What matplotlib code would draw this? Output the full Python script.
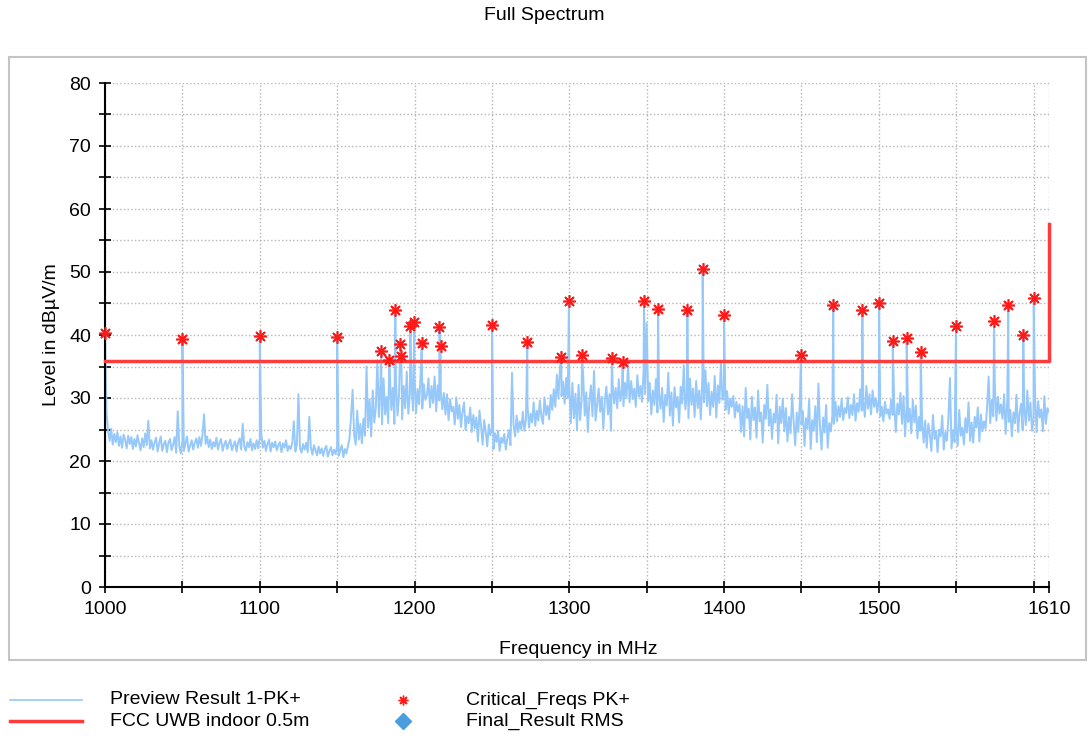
import numpy as np
import matplotlib.pyplot as plt
from matplotlib.lines import Line2D
from matplotlib.patches import Rectangle

plt.rcParams['font.family'] = ['Liberation Sans', 'DejaVu Sans']

# preview trace, one value per MHz from 1000 to 1610 MHz (dBuV/m)
trace_start = 1000
trace_step = 1
trace_levels = [
    40.3, 27.5, 24.8, 23.2, 25.1, 22.6, 24.3, 23.0, 24.6, 22.4,
    23.9, 22.1, 24.2, 23.4, 22.0, 24.0, 22.7, 23.8, 21.9, 23.5,
    22.3, 24.1, 22.8, 21.7, 23.6, 22.2, 24.4, 22.5, 26.4, 22.0,
    23.3, 21.8, 22.9, 23.7, 21.5, 22.8, 23.9, 21.6, 22.7, 23.2,
    21.4, 22.9, 23.5, 21.7, 22.6, 23.8, 21.3, 27.9, 22.4, 21.2,
    23.1, 21.6, 22.8, 23.9, 21.5, 22.4, 23.3, 21.8, 22.9, 23.6,
    22.1, 23.8, 22.4, 24.1, 27.4, 22.7, 23.9, 22.2, 23.4, 21.9,
    23.0, 22.3, 23.7, 21.8, 22.9, 23.5, 21.6, 22.6, 23.2, 21.9,
    22.8, 23.4, 21.7, 22.5, 23.1, 21.5, 22.9, 23.6, 21.8, 25.9,
    22.3, 21.6, 23.0, 22.2, 23.5, 21.7, 22.8, 21.9, 23.3, 22.0,
    23.6, 24.4, 22.1, 23.2, 21.6, 22.7, 23.4, 21.5, 22.9, 22.2,
    23.1, 21.7, 22.5, 23.0, 21.4, 22.8, 22.1, 23.3, 21.6, 22.4,
    21.9, 22.8, 26.3, 21.5, 22.6, 30.6, 22.0, 21.3, 22.7, 21.8,
    22.9, 21.4, 27.0, 22.2, 21.0, 22.5, 21.7, 20.9, 22.3, 21.2,
    22.0, 20.8, 21.9, 22.4, 20.7, 21.6, 22.2, 20.9, 21.8, 21.1,
    22.3, 20.8, 21.7, 22.5, 20.6, 21.9, 21.2, 22.4, 23.6, 27.2,
    31.3, 24.1, 22.6, 28.0, 23.4, 25.9, 22.8, 26.7, 24.0, 35.0,
    25.3, 29.8, 23.9, 31.2, 26.1, 28.4, 36.0, 27.0, 32.6, 25.8,
    33.1, 27.4, 30.2, 26.0, 34.5, 28.1, 31.6, 25.9, 32.8, 27.2,
    30.5, 33.8, 26.6, 31.9, 28.4, 34.2, 27.5, 30.6, 32.9, 28.0,
    33.5, 27.6, 31.4, 29.0, 34.0, 28.3, 32.2, 29.7, 30.4, 33.1,
    28.5, 31.9, 29.2, 33.4, 27.9, 32.0, 29.6, 31.1, 28.2, 30.8,
    27.4, 30.6, 26.5, 29.8, 27.9, 28.6, 25.8, 30.1, 26.7, 28.9,
    25.4, 27.8, 29.3, 24.9, 27.1, 26.0, 28.5, 24.6, 27.3, 25.2,
    26.9, 23.1, 28.0, 25.6, 22.6, 26.5, 24.7, 22.3, 25.8, 24.1,
    25.2, 21.9, 24.4, 23.0, 24.8, 21.6, 23.7, 22.9, 24.3, 21.8,
    23.6, 24.9, 22.5, 34.0, 25.7, 23.9, 27.2, 24.6, 26.3, 25.0,
    27.8, 24.8, 26.6, 28.9, 25.3, 27.5, 26.1, 29.3, 25.6, 28.0,
    26.4, 29.6, 27.0, 25.9, 30.1, 27.3, 28.8, 26.6, 30.5, 28.1,
    31.4, 28.6, 33.7, 29.9, 34.8, 30.3, 32.6, 29.1, 33.2, 30.0,
    31.9, 26.0, 32.4, 26.8, 30.7, 24.9, 32.1, 26.5, 29.8, 33.6,
    27.2, 30.9, 24.6, 29.5, 32.0, 27.1, 34.3, 26.4, 29.0, 31.5,
    27.8, 30.2, 25.1, 29.7, 31.8, 27.4, 30.6, 24.8, 32.3, 29.1,
    31.6, 28.4, 33.0, 29.5, 31.2, 28.7, 32.4, 30.0, 35.4, 29.3,
    32.7, 29.8, 31.5, 28.6, 33.6, 30.2, 31.9, 29.4, 34.1, 30.6,
    41.9, 29.5, 32.4, 27.4, 31.2, 28.9, 33.0, 27.7, 30.8, 28.3,
    31.6, 26.2, 30.5, 28.8, 34.0, 27.2, 30.9, 25.6, 31.7, 28.5,
    30.2, 26.1, 31.8, 29.1, 35.2, 28.2, 30.7, 26.8, 33.1, 28.9,
    31.5, 27.0, 32.7, 28.4, 31.2, 26.6, 33.3, 29.3, 34.4, 28.7,
    32.4, 27.3, 31.0, 28.6, 33.5, 26.9, 32.0, 29.2, 35.6, 29.7,
    30.6, 28.1, 31.1, 27.5, 29.9, 28.6, 30.3, 26.9, 29.4, 27.8,
    29.0, 24.6, 28.7, 23.9, 31.6, 26.8, 28.3, 23.4, 30.2, 26.5,
    28.5, 23.7, 31.2, 26.3, 27.7, 22.9, 28.9, 26.7, 32.1, 25.6,
    28.2, 23.5, 27.5, 26.1, 30.5, 22.8, 28.6, 26.0, 29.9, 24.7,
    28.4, 23.1, 27.0, 24.4, 30.6, 26.2, 22.5, 27.7, 24.6, 29.3,
    25.8, 27.9, 22.4, 26.8, 25.1, 29.8, 21.9, 26.5, 24.8, 28.7,
    23.0, 32.3, 25.6, 21.8, 26.9, 24.5, 28.9, 22.1, 26.0, 24.7,
    27.2, 25.9, 29.4, 26.3, 28.7, 27.0, 29.9, 26.5, 28.4, 27.6,
    30.1, 26.8, 28.9, 27.3, 30.6, 26.4, 29.2, 27.8, 31.4, 28.0,
    29.5, 27.0, 31.9, 28.3, 30.6, 27.4, 31.2, 28.6, 30.0, 27.7,
    29.8, 27.1, 28.6, 26.3, 29.4, 27.5, 28.2, 26.7, 29.7, 27.3,
    28.9, 24.6, 29.1, 27.4, 30.8, 25.9, 30.3, 23.9, 28.6, 26.2,
    28.3, 24.4, 29.7, 26.1, 28.8, 23.6, 27.0, 24.8, 26.5, 22.9,
    26.4, 22.1, 25.9, 24.2, 21.6, 27.3, 23.5, 24.8, 21.4, 25.0,
    23.9, 27.2, 21.8, 24.6, 23.2, 26.9, 33.2, 22.0, 24.9, 23.0,
    25.5, 22.4, 28.1, 24.0, 25.3, 22.6, 26.8, 24.5, 29.3, 23.2,
    26.1, 22.9, 27.0, 25.3, 28.5, 23.1, 27.4, 24.7, 26.3, 25.1,
    28.6, 33.4, 26.0, 29.7, 27.1, 31.8, 26.4, 30.2, 27.5, 29.0,
    26.7, 30.6, 24.3, 29.4, 26.2, 28.1, 23.9, 27.7, 26.0, 30.5,
    24.6, 27.6, 29.1, 24.9, 28.5, 25.7, 31.2, 26.4, 29.3, 24.8,
    26.5, 30.1, 24.6, 29.5, 26.9, 28.2, 24.7, 30.3, 25.9, 28.4,
    27.8,
]

# critical frequencies (peak detector)
crit_freqs = [1000.0, 1050.0, 1100.0, 1150.0, 1178.4, 1183.7, 1187.6, 1190.8,
              1191.5, 1197.3, 1199.9, 1204.7, 1216.0, 1216.9, 1250.1, 1272.9,
              1294.9, 1299.8, 1308.2, 1327.6, 1334.5, 1348.3, 1357.4, 1376.3,
              1386.2, 1400.0, 1449.7, 1470.6, 1489.4, 1500.2, 1509.0, 1518.0,
              1527.1, 1549.9, 1574.5, 1583.7, 1593.4, 1600.1]
crit_levels = [40.3, 39.4, 39.8, 39.7, 37.5, 36.1, 44.0, 38.6,
               36.7, 41.4, 42.1, 38.8, 41.3, 38.3, 41.6, 38.9,
               36.5, 45.4, 36.9, 36.4, 35.7, 45.4, 44.1, 43.9,
               50.4, 43.1, 36.9, 44.8, 44.0, 45.0, 39.0, 39.5,
               37.3, 41.5, 42.3, 44.8, 40.0, 45.8]

# limit line
limit_freqs = [1000, 1610, 1610]
limit_levels = [35.8, 35.8, 57.6]

x_major = [1000, 1100, 1200, 1300, 1400, 1500, 1610]

# the spectrum trace goes up to every critical peak
grid_freqs = trace_start + trace_step * np.arange(len(trace_levels))
all_f = np.concatenate([grid_freqs, crit_freqs])
all_l = np.concatenate([trace_levels, crit_levels])
order = np.argsort(all_f, kind='stable')
all_f, all_l = all_f[order], all_l[order]

blue = '#96c8fa'
red = '#ff3c3c'

fig = plt.figure(figsize=(10.89, 7.4), dpi=100)
fig.patches.append(Rectangle((9 / 1089, 1 - 660 / 740), 1077 / 1089, 603 / 740,
                             transform=fig.transFigure, fill=False,
                             edgecolor='#c4c4c4', lw=1.5))

ax = fig.add_axes([105 / 1089, 1 - 587 / 740, 944 / 1089, 504 / 740])
ax.plot(all_f, all_l, color=blue, lw=1.4, zorder=2)
ax.plot(limit_freqs, limit_levels, color=red, lw=2.5, zorder=3, clip_on=False)
ax.plot(crit_freqs, crit_levels, ls='none', marker=(8, 2, 0), ms=9, mew=1.2,
        color='#ff1a1a', zorder=4, clip_on=False)

ax.set_xlim(1000, 1610)
ax.set_ylim(0, 80)

xt = list(range(1000, 1601, 50)) + [1610]
ax.set_xticks(xt)
ax.set_xticklabels([str(v) if v in x_major else '' for v in xt])
yt = list(range(0, 81, 5))
ax.set_yticks(yt)
ax.set_yticklabels([str(v) if v % 10 == 0 else '' for v in yt])
ax.tick_params(direction='inout', length=8, width=1.2, labelsize=14, pad=6)
ax.grid(True, linestyle=':', color='#b4b4b4', lw=1)
ax.set_axisbelow(True)
for s in ['top', 'right']:
    ax.spines[s].set_visible(False)
for s in ['left', 'bottom']:
    ax.spines[s].set_linewidth(1.5)

fig.text(0.5, 1 - 16 / 740, 'Full Spectrum', ha='center', va='center', fontsize=14)
fig.text(578 / 1089, 1 - 650 / 740, 'Frequency in MHz', ha='center', va='center', fontsize=14)
fig.text(52 / 1089, 1 - 335 / 740, 'Level in dBµV/m', ha='center', va='center',
         rotation=90, fontsize=14)

# legend drawn by hand below the box
r1, r2 = 1 - 700 / 740, 1 - 721 / 740
fig.add_artist(Line2D([10 / 1089, 82 / 1089], [r1, r1], color=blue, lw=1.2))
fig.add_artist(Line2D([10 / 1089, 82 / 1089], [r2, r2], color=red, lw=2.5))
fig.add_artist(Line2D([403 / 1089], [r1], marker=(8, 2, 0), ms=7, mew=1,
                      color='#ff1a1a'))
fig.add_artist(Line2D([403 / 1089], [r2], marker='D', ms=8, color='#4a9ee0'))
fig.text(110 / 1089, r1, 'Preview Result 1-PK+', va='center', fontsize=14)
fig.text(110 / 1089, r2, 'FCC UWB indoor 0.5m', va='center', fontsize=14)
fig.text(466 / 1089, r1, 'Critical_Freqs PK+', va='center', fontsize=14)
fig.text(466 / 1089, r2, 'Final_Result RMS', va='center', fontsize=14)

fig.savefig('out.png', dpi=100)
